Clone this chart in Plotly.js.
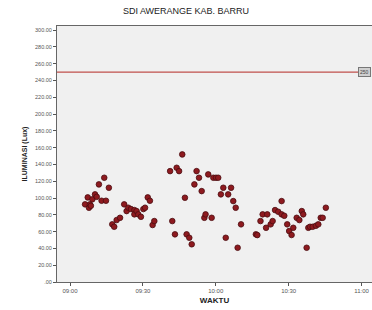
<!DOCTYPE html>
<html>
<head>
<meta charset="utf-8">
<script src="https://cdn.plot.ly/plotly-3.0.1.min.js"></script>
<style>html,body{margin:0;padding:0;background:#fff;}#chart{width:372px;height:310px;}</style>
</head>
<body>
<div id="chart"></div>
<script>
const times = [
"09:06:12","09:07:18","09:07:48","09:08:12","09:08:36","09:09:12","09:10:18","09:11:00","09:11:54","09:13:00",
"09:14:06","09:14:48","09:16:00","09:17:24","09:18:12","09:19:12","09:20:36","09:22:18","09:23:18","09:24:00",
"09:25:06","09:26:30","09:26:30","09:27:24","09:28:06","09:29:12","09:30:12","09:30:54","09:32:00","09:32:54",
"09:34:00","09:34:42","09:41:12","09:42:06","09:43:12","09:43:54","09:44:54","09:46:12","09:47:18","09:48:00",
"09:49:06","09:50:06","09:51:12","09:52:06","09:53:06","09:54:12","09:55:18","09:55:48","09:56:54","09:58:18",
"09:59:00","10:00:06","10:01:00","10:02:06","10:03:06","10:04:06","10:05:06","10:06:18","10:07:12","10:08:12",
"10:09:00","10:10:24","10:16:30","10:17:06","10:18:24","10:19:18","10:20:42","10:21:12","10:22:36","10:23:24",
"10:24:24","10:25:42","10:27:06","10:27:06","10:28:12","10:29:24","10:30:12","10:31:12","10:31:54","10:33:18",
"10:34:24","10:35:24","10:36:00","10:37:24","10:38:06","10:38:48","10:39:54","10:41:12","10:42:12","10:43:12",
"10:44:00","10:45:18"];
const lux = [
92.5,100.8,88.5,92.5,90.8,98.5,104.4,101.5,116.3,96.8,
124.2,96.8,112.3,68.7,65.8,73.8,76.5,92.5,84.5,88.5,
86.9,85.7,80.6,84.5,80.6,77.7,86.9,88.5,100.8,96.8,
67.9,72.6,132.1,72.6,56.8,136.1,132.1,152.0,100.4,56.8,
52.7,44.9,116.3,132.1,124.2,108.3,76.5,80.6,128.2,76.5,
124.2,124.2,124.2,104.4,112.3,52.7,104.4,112.3,96.4,88.5,
40.8,68.7,56.8,55.9,72.6,80.6,64.6,80.6,68.7,72.6,
85.7,83.7,96.4,80.6,78.9,68.7,60.7,56.0,64.6,76.5,
73.8,84.5,80.6,40.8,64.6,65.8,65.8,67.0,68.7,76.5,
76.5,88.5];
const refValue = 250;
const refLabel = "250";
const yTickVals = [0,20,40,60,80,100,120,140,160,180,200,220,240,260,280,300];
const yTickText = [".00","20.00","40.00","60.00","80.00","100.00","120.00","140.00","160.00","180.00","200.00","220.00","240.00","260.00","280.00","300.00"];
const xTickVals = ["09:00","09:30","10:00","10:30","11:00"];

const day = "2020-01-01 ";
const xs = times.map(t => day + t);

const trace = {
  x: xs, y: lux, type: "scatter", mode: "markers",
  marker: {size: 5.6, color: "#8e1a1f", line: {color: "#4a0d10", width: 0.8}},
  hoverinfo: "skip"
};

const font = "Liberation Sans, Arial, sans-serif";
const layout = {
  width: 372, height: 310,
  margin: {l: 57, r: 0, t: 26, b: 28},
  paper_bgcolor: "#ffffff",
  plot_bgcolor: "#f0f0f0",
  showlegend: false,
  title: {text: "SDI AWERANGE KAB. BARRU", font: {family: font, size: 9, color: "#222"}, x: 0.5, xanchor: "center", y: 0.965, yanchor: "middle"},
  xaxis: {
    type: "date",
    range: [day + "08:54:39", day + "11:04:18"],
    tickvals: xTickVals.map(t => day + t),
    ticktext: xTickVals,
    ticks: "outside", ticklen: 3, tickcolor: "#555", tickwidth: 1,
    tickfont: {family: font, size: 6, color: "#555"},
    showgrid: false, zeroline: false,
    showline: true, linecolor: "#666", linewidth: 1, mirror: true,
    title: {text: "<b>WAKTU</b>", font: {family: font, size: 8, color: "#222"}, standoff: 4}
  },
  yaxis: {
    range: [0, 305],
    tickvals: yTickVals, ticktext: yTickText,
    ticks: "outside", ticklen: 3, tickcolor: "#555", tickwidth: 1,
    tickfont: {family: font, size: 5.5, color: "#555"},
    showgrid: false, zeroline: false,
    showline: true, linecolor: "#666", linewidth: 1, mirror: true,
    title: {text: "<b>ILUMINASI (Lux)</b>", font: {family: font, size: 7, color: "#222"}, standoff: 6}
  },
  shapes: [{
    type: "line", xref: "paper", x0: 0, x1: 0.965, yref: "y", y0: refValue, y1: refValue,
    line: {color: "#c0504d", width: 1.2}
  }],
  annotations: [{
    xref: "paper", x: 0.998, xanchor: "right", yref: "y", y: refValue, yanchor: "middle",
    text: refLabel, showarrow: false,
    font: {family: font, size: 5, color: "#444"},
    bgcolor: "#cfcfcf", bordercolor: "#777", borderwidth: 1, borderpad: 1
  }]
};

Plotly.newPlot("chart", [trace], layout, {staticPlot: true, displayModeBar: false});
</script>
</body>
</html>
